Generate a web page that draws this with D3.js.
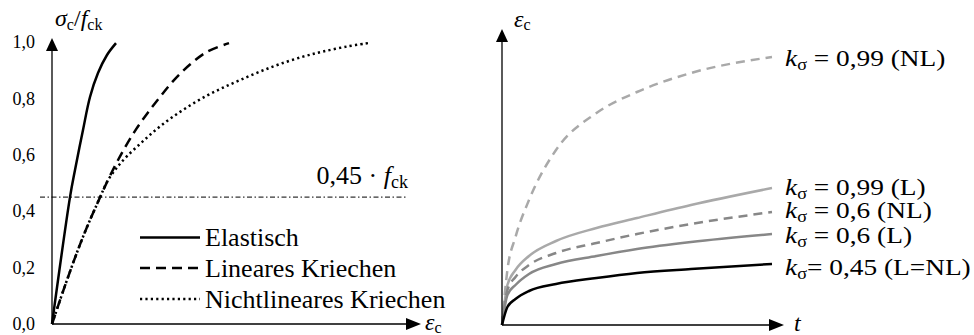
<!DOCTYPE html>
<html>
<head>
<meta charset="utf-8">
<script src="https://cdn.jsdelivr.net/npm/d3@7"></script>
<style>
  html, body { margin: 0; padding: 0; background: #fff; }
  svg { display: block; }
  text { font-family: "Liberation Serif", "Times New Roman", serif; }
</style>
</head>
<body>
<svg id="chart" width="974" height="335"></svg>
<script>
// ---- Left panel: stress-strain relation (sigma_c / f_ck over epsilon_c) ----
const sigmaTicks = [0, 0.2, 0.4, 0.6, 0.8, 1.0];
const sigmaTickLabels = ["0,0", "0,2", "0,4", "0,6", "0,8", "1,0"];
const thresholdSigma = 0.45;

// strain (arbitrary units) / stress ratio pairs
const elasticStrain = [0, 0.18, 0.23, 0.31, 0.38, 0.46, 0.55, 0.64];
const elasticStress = [0, 0.45, 0.546, 0.688, 0.805, 0.89, 0.954, 0.996];

const linearStrain = [0, 0.15, 0.31, 0.48, 0.60, 0.72, 0.84, 0.96, 1.08, 1.22, 1.38, 1.55, 1.77];
const linearStress = [0, 0.156, 0.309, 0.449, 0.54, 0.62, 0.69, 0.75, 0.805, 0.865, 0.92, 0.965, 0.996];

const nonlinearStrain = [0, 0.15, 0.31, 0.48, 0.56, 0.65, 0.75, 0.90, 1.05, 1.21, 1.38, 1.55, 1.71, 1.88, 2.08, 2.28, 2.51, 2.71, 2.95, 3.16];
const nonlinearStress = [0, 0.156, 0.309, 0.449, 0.51, 0.555, 0.595, 0.645, 0.692, 0.735, 0.775, 0.81, 0.838, 0.865, 0.895, 0.922, 0.948, 0.966, 0.984, 0.996];

const legendNames = ["Elastisch", "Lineares Kriechen", "Nichtlineares Kriechen"];

// ---- Right panel: creep strain over time for several stress levels ----
const timeSteps = [0, 0.02, 0.05, 0.1, 0.2, 0.35, 0.5, 0.7, 1.0];
const strain045L = [0, 0.18, 0.26, 0.34, 0.41, 0.47, 0.52, 0.56, 0.61];
const strain06L = [0, 0.30, 0.40, 0.51, 0.61, 0.69, 0.76, 0.83, 0.91];
const strain06NL = [0, 0.35, 0.48, 0.60, 0.72, 0.82, 0.91, 1.01, 1.13];
const strain099L = [0, 0.40, 0.55, 0.69, 0.84, 0.97, 1.07, 1.20, 1.37];
const strain099NL = [0, 0.55, 0.88, 1.25, 1.75, 2.12, 2.33, 2.52, 2.68];
const seriesStrains = [strain045L, strain06L, strain06NL, strain099L, strain099NL];
const seriesKsigma = ["0,45", "0,6", "0,6", "0,99", "0,99"];
const seriesModel = ["(L=NL)", "(L)", "(NL)", "(L)", "(NL)"];

const svg = d3.select("#chart");
const ink = "#000";

function arrowUp(g, x, yTip) {
  g.append("path").attr("d", `M${x},${yTip} L${x - 6},${yTip + 13} L${x + 6},${yTip + 13} Z`).attr("fill", ink);
}
function arrowRight(g, xTip, y) {
  g.append("path").attr("d", `M${xTip},${y} L${xTip - 15},${y - 6} L${xTip - 15},${y + 6} Z`).attr("fill", ink);
}
// text stretched slightly in width, anchored at its x position
function wideText(g, x, y, size, sx) {
  return g.append("text").attr("x", 0).attr("y", 0)
    .attr("transform", `translate(${x},${y}) scale(${sx},1)`)
    .attr("font-size", size).attr("fill", ink);
}

// ===== Left panel =====
const xL = d3.scaleLinear().domain([0, 3.68]).range([52, 420]);
const yL = d3.scaleLinear().domain([0, 1]).range([324, 42]);
const gL = svg.append("g");

// y tick labels (no tick marks)
const yAxisL = d3.axisLeft(yL).tickValues(sigmaTicks).tickSize(0).tickPadding(17)
  .tickFormat((d, i) => sigmaTickLabels[i]);
const yAx = gL.append("g").attr("transform", `translate(${xL(0)},0)`).call(yAxisL);
yAx.select(".domain").remove();
yAx.selectAll("text").attr("font-size", 18).attr("fill", ink);

// axes with arrow heads
gL.append("line").attr("x1", xL(0)).attr("y1", yL(0)).attr("x2", xL(0)).attr("y2", 50)
  .attr("stroke", ink).attr("stroke-width", 1.3);
arrowUp(gL, xL(0), 38);
gL.append("line").attr("x1", xL(0)).attr("y1", yL(0)).attr("x2", 410).attr("y2", yL(0))
  .attr("stroke", ink).attr("stroke-width", 1.3);
arrowRight(gL, 421, yL(0));

// threshold line at 0.45 f_ck
gL.append("line").attr("x1", 40).attr("x2", 408).attr("y1", yL(thresholdSigma)).attr("y2", yL(thresholdSigma))
  .attr("stroke", ink).attr("stroke-width", 1).attr("stroke-dasharray", "5,2.5,1.5,2.5");
const thrLabel = gL.append("text").attr("x", 408).attr("y", yL(thresholdSigma) - 13)
  .attr("text-anchor", "end").attr("font-size", 26).attr("fill", ink);
thrLabel.append("tspan").text("0,45 \u00b7 ");
thrLabel.append("tspan").attr("font-style", "italic").text("f");
thrLabel.append("tspan").attr("font-size", 18).attr("dy", 4).text("ck");

// curves
const lineL = d3.line().x(d => xL(d[0])).y(d => yL(d[1])).curve(d3.curveCatmullRom.alpha(0.5));
const curvesL = [
  { xs: elasticStrain, ys: elasticStress, dash: null },
  { xs: linearStrain, ys: linearStress, dash: "10,6" },
  { xs: nonlinearStrain, ys: nonlinearStress, dash: "2.2,3.2" }
];
curvesL.forEach(c => {
  gL.append("path").attr("d", lineL(d3.zip(c.xs, c.ys))).attr("fill", "none")
    .attr("stroke", ink).attr("stroke-width", 2.5)
    .attr("stroke-dasharray", c.dash);
});

// legend
const legY = [237.5, 268, 299];
legendNames.forEach((name, i) => {
  gL.append("line").attr("x1", 140).attr("x2", 200).attr("y1", legY[i]).attr("y2", legY[i])
    .attr("stroke", ink).attr("stroke-width", 2.5).attr("stroke-dasharray", curvesL[i].dash);
  gL.append("text").attr("x", 205).attr("y", legY[i] + 8.5).attr("font-size", 26).attr("fill", ink).text(name);
});

// axis titles
const yTitle = gL.append("text").attr("x", 55).attr("y", 26).attr("font-size", 24).attr("fill", ink);
yTitle.append("tspan").attr("font-style", "italic").text("\u03c3");
yTitle.append("tspan").attr("font-size", 16).attr("dy", 4).text("c");
yTitle.append("tspan").attr("dy", -4).text("/");
yTitle.append("tspan").attr("font-style", "italic").text("f");
yTitle.append("tspan").attr("font-size", 16).attr("dy", 4).text("ck");

const xTitleL = gL.append("text").attr("x", 425).attr("y", 330).attr("font-size", 24).attr("fill", ink);
xTitleL.append("tspan").attr("font-style", "italic").text("\u03b5");
xTitleL.append("tspan").attr("font-size", 16).attr("dy", 3).text("c");

// ===== Right panel =====
const xR = d3.scaleLinear().domain([0, 1]).range([502, 772]);
const yR = d3.scaleLinear().domain([0, 3]).range([325, 25]);
const gR = svg.append("g");

const seriesColor = ["#000000", "#878787", "#878787", "#a9a9a9", "#a9a9a9"];
const seriesDash = [null, null, "9,6", null, "9,6"];
const lineR = d3.line().x(d => xR(d[0])).y(d => yR(d[1])).curve(d3.curveMonotoneX);

for (let i = seriesStrains.length - 1; i >= 0; i--) {
  gR.append("path").attr("d", lineR(d3.zip(timeSteps, seriesStrains[i]))).attr("fill", "none")
    .attr("stroke", seriesColor[i]).attr("stroke-width", 2.5)
    .attr("stroke-dasharray", seriesDash[i]);
}

gR.append("line").attr("x1", xR(0)).attr("y1", yR(0)).attr("x2", xR(0)).attr("y2", 40)
  .attr("stroke", ink).attr("stroke-width", 1.3);
arrowUp(gR, xR(0), 29);
gR.append("line").attr("x1", xR(0)).attr("y1", yR(0)).attr("x2", 772).attr("y2", yR(0))
  .attr("stroke", ink).attr("stroke-width", 1.3);
arrowRight(gR, 784, yR(0));

const yTitleR = gR.append("text").attr("x", 514).attr("y", 27).attr("font-size", 24).attr("fill", ink);
yTitleR.append("tspan").attr("font-style", "italic").text("\u03b5");
yTitleR.append("tspan").attr("font-size", 16).attr("dy", 3).text("c");

gR.append("text").attr("x", 794).attr("y", 331).attr("font-size", 24).attr("font-style", "italic")
  .attr("fill", ink).text("t");

// series labels next to curve ends
const labelDy = [11, 9, 6, 7, 9];
seriesStrains.forEach((s, i) => {
  const t = wideText(gR, 785, yR(s[s.length - 1]) + labelDy[i], 24, 1.14);
  t.append("tspan").attr("font-style", "italic").text("k");
  t.append("tspan").attr("font-size", 16).attr("dy", 4).text("\u03c3");
  t.append("tspan").attr("dy", -4).text((i === 0 ? "= " : " = ") + seriesKsigma[i] + " " + seriesModel[i]);
});
</script>
</body>
</html>
